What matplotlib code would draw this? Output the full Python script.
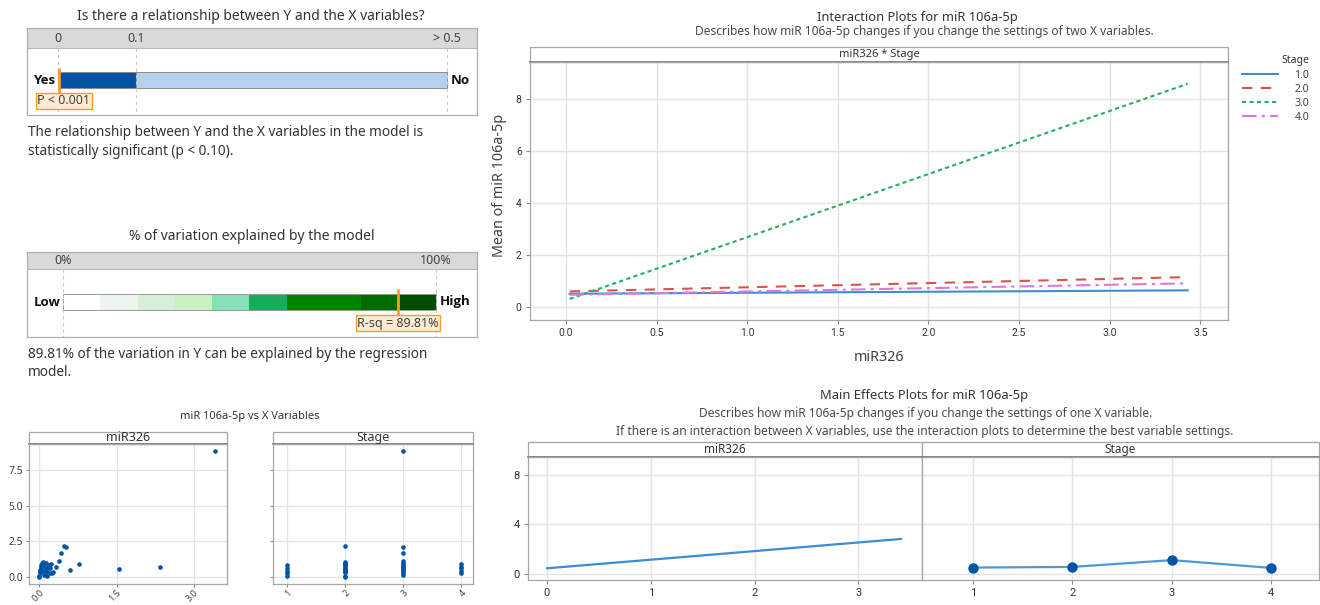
import matplotlib
matplotlib.use("Agg")
import matplotlib.pyplot as plt
from matplotlib import font_manager
from matplotlib.patches import Rectangle

W, H = 1320, 605

# ---- summary bars ----
p_edges = [0, 0.1, 0.5]
p_ticklabels = ["0", "0.1", "> 0.5"]
p_colors = ["#0054a6", "#b4d2ee"]
p_value = 0.001
p_label = "P < 0.001"

rsq_edges = [0, 10, 20, 30, 40, 50, 60, 80, 90, 100]
rsq_colors = ["#ffffff", "#edf5ee", "#d8eed8", "#c9f2c0", "#86dfb6",
              "#15ad5c", "#008300", "#006b00", "#004d00"]
rsq_ticklabels = ["0%", "100%"]
rsq_value = 89.81
rsq_label = "R-sq = 89.81%"

# ---- raw data (miR326, miR 106a-5p, Stage) ----
mir326 = [0.00, 0.01, 0.01, 0.03, 0.05, 0.08, 0.10, 0.12, 0.14, 0.16, 0.19, 0.23,
          0.21, 0.25, 0.32, 0.39, 0.43, 0.48, 0.52, 0.60, 0.77, 1.54, 2.34, 3.40,
          0.00, 0.02, 0.04, 0.06, 0.07, 0.09, 0.11, 0.13, 0.15, 0.17, 0.20, 0.03, 0.27]
mir106 = [0.02, 0.26, 0.49, 0.72, 0.96, 1.07, 0.91, 0.61, 0.37, 0.72, 0.84, 0.91,
          0.26, 0.26, 0.72, 1.14, 1.70, 2.17, 2.08, 0.49, 0.91, 0.54, 0.72, 8.84,
          0.10, 0.40, 0.55, 0.45, 0.80, 0.15, 0.44, 0.95, 0.07, 0.65, 0.61, 0.84, 0.37]
stage = [2, 1, 3, 2, 2, 2, 4, 2, 2, 4, 1, 3,
         4, 3, 3, 3, 3, 2, 3, 2, 2, 2, 3, 3,
         2, 3, 3, 4, 3, 3, 1, 3, 1, 1, 4, 2, 2]

# ---- interaction plot: fitted lines per stage ----
int_labels = ["1.0", "2.0", "3.0", "4.0"]
int_x = [0.02, 3.43]
int_y = [[0.51, 0.64], [0.60, 1.15], [0.31, 8.58], [0.47, 0.91]]
int_colors = ["#3b8ed6", "#d9534f", "#22b05e", "#dc78dc"]
int_styles = ["-", (0, (5, 4)), (0, (2, 1.6)), (0, (7, 2.5, 1.5, 2.5))]

# ---- main effects ----
me_x = [0, 3.41]
me_y = [0.46, 2.83]
me_stage = [1, 2, 3, 4]
me_stage_mean = [0.52, 0.57, 1.12, 0.49]

fm = font_manager.fontManager
installed = {f.name for f in fm.ttflist}
bold_ok = {f.name for f in fm.ttflist if f.weight in (600, 700, 800, "bold", "semibold")}
NARROW = "Liberation Sans Narrow" if "Liberation Sans Narrow" in installed else "Roboto"
BOLD = next(n for n in ["Open Sans", "Noto Sans", "Lato", "DejaVu Sans"] if n in bold_ok)
plt.rcParams["font.family"] = ["Noto Sans", "DejaVu Sans"]
TXT = "#333333"
GRID = "#e4e4e4"
FRAME = "#a6a6a6"

fig = plt.figure(figsize=(W / 100, H / 100), dpi=100)


def px_axes(x0, y0, x1, y1):
    return fig.add_axes([x0 / W, 1 - y1 / H, (x1 - x0) / W, (y1 - y0) / H])


def ftext(x, y, s, **kw):
    kw.setdefault("color", TXT)
    fig.text(x / W, 1 - y / H, s, **kw)


def frame(ax, color=FRAME):
    for sp in ax.spines.values():
        sp.set_color(color)
        sp.set_linewidth(0.9)


def header(ax, label, frac, size=7.5, family=None):
    ax.add_patch(Rectangle((0, 1), 1, frac, transform=ax.transAxes, clip_on=False,
                           fc="white", ec=FRAME, lw=0.9))
    ax.plot([0, 1], [1, 1], transform=ax.transAxes, color="#707070", lw=1.2, clip_on=False)
    ax.text(0.5, 1 + frac / 2, label, transform=ax.transAxes, ha="center", va="center",
            fontsize=size, color=TXT, family=family)


# ================= panel 1: p-value =================
ftext(251, 16, "Is there a relationship between Y and the X variables?", ha="center",
      va="center", fontsize=10)
ax = px_axes(27, 28, 477, 115)
ax.set_xlim(-0.0398, 0.5386)
ax.set_ylim(115, 28)
ax.axhspan(28, 47.7, color="#d9d9d9", lw=0)
ax.axhline(47.7, color="#b8b8b8", lw=0.8)
for v, lab in zip(p_edges, p_ticklabels):
    ax.vlines(v, 47.7, 115, colors="#c8c8c8", linestyles=(0, (3, 3)), lw=0.8)
    ax.text(v, 38.5, lab, ha="center", va="center", fontsize=9, color="#404040")
for i in range(len(p_edges) - 1):
    ax.barh(80.3, p_edges[i + 1] - p_edges[i], left=p_edges[i], height=16,
            color=p_colors[i], edgecolor="#8c8c8c", lw=0.7)
ax.vlines(p_value, 67.7, 93.3, colors="#f5a02a", lw=2)
ax.annotate(p_label, xy=(p_value, 100.8), xytext=(-15.5, 0), textcoords="offset points",
            ha="left", va="center", fontsize=9, color="#404040",
            bbox=dict(boxstyle="square,pad=0.12", fc="#fdebd2", ec="#f5a02a", lw=1))
ax.annotate("Yes", xy=(p_edges[0], 80.3), xytext=(-2, 0), textcoords="offset points",
            ha="right", va="center", fontsize=9.5, fontweight="bold", family=BOLD,
            color="#111111")
ax.annotate("No", xy=(p_edges[-1], 80.3), xytext=(3, 0), textcoords="offset points",
            ha="left", va="center", fontsize=9.5, fontweight="bold", family=BOLD,
            color="#111111")
ax.set_xticks([])
ax.set_yticks([])
frame(ax, "#b0b0b0")
ftext(28, 133, "The relationship between Y and the X variables in the model is",
      va="center", fontsize=9.8)
ftext(28, 151.5, "statistically significant (p < 0.10).", va="center", fontsize=9.8)

# ================= panel 2: R-sq =================
ftext(252, 237, "% of variation explained by the model", ha="center", va="center",
      fontsize=10)
ax = px_axes(27, 251.5, 477, 336.5)
ax.set_xlim(-9.65, 111.0)
ax.set_ylim(336.5, 251.5)
ax.axhspan(251.5, 269.3, color="#d9d9d9", lw=0)
ax.axhline(269.3, color="#b8b8b8", lw=0.8)
for v, lab in zip([rsq_edges[0], rsq_edges[-1]], rsq_ticklabels):
    ax.vlines(v, 269.3, 336.5, colors="#c8c8c8", linestyles=(0, (3, 3)), lw=0.8)
    ax.text(v, 261, lab, ha="center", va="center", fontsize=9, color="#404040")
for i in range(len(rsq_edges) - 1):
    ax.barh(302, rsq_edges[i + 1] - rsq_edges[i], left=rsq_edges[i], height=16,
            color=rsq_colors[i], lw=0)
ax.barh(302, rsq_edges[-1] - rsq_edges[0], left=rsq_edges[0], height=16,
        fill=False, edgecolor="#9a9a9a", lw=0.7)
ax.vlines(rsq_value, 289.3, 316.5, colors="#f5a02a", lw=2)
ax.text(rsq_value, 323, rsq_label, ha="center", va="center", fontsize=9, color="#404040",
        bbox=dict(boxstyle="square,pad=0.12", fc="#fdebd2", ec="#f5a02a", lw=1))
ax.annotate("Low", xy=(rsq_edges[0], 302), xytext=(-2, 0), textcoords="offset points",
            ha="right", va="center", fontsize=9.5, fontweight="bold", family=BOLD,
            color="#111111")
ax.annotate("High", xy=(rsq_edges[-1], 302), xytext=(3, 0), textcoords="offset points",
            ha="left", va="center", fontsize=9.5, fontweight="bold", family=BOLD,
            color="#111111")
ax.set_xticks([])
ax.set_yticks([])
frame(ax, "#b0b0b0")
ftext(28, 355, "89.81% of the variation in Y can be explained by the regression",
      va="center", fontsize=9.8)
ftext(28, 373, "model.", va="center", fontsize=9.8)

# ================= panel 3: scatter vs X =================
ftext(250, 417, "miR 106a-5p vs X Variables", ha="center", va="center", fontsize=8)
hfrac = 12.5 / 140
axL = px_axes(29, 444, 227, 584)
axR = px_axes(273, 444, 473, 584)
axL.scatter(mir326, mir106, s=11, color="#0054a6", lw=0, zorder=3)
axR.scatter(stage, mir106, s=11, color="#0054a6", lw=0, zorder=3)
axL.set_xlim(-0.2, 3.64)
axR.set_xlim(0.76, 4.2)
axL.set_xticks([0, 1.5, 3.0])
axL.set_xticklabels(["0.0", "1.5", "3.0"])
axR.set_xticks([1, 2, 3, 4])
for a, lab in [(axL, "miR326"), (axR, "Stage")]:
    a.set_ylim(-0.49, 9.32)
    a.set_yticks([0, 2.5, 5.0, 7.5])
    a.grid(True, color=GRID, lw=0.9)
    a.set_axisbelow(True)
    a.tick_params(length=2.5, color="#888888", labelsize=7.5, labelcolor="#404040", pad=1.5)
    a.tick_params(axis="x", labelsize=6.5, pad=0.5)
    for t in a.get_xticklabels():
        t.set_rotation(45)
        t.set_ha("right")
        t.set_rotation_mode("anchor")
    frame(a)
    header(a, lab, hfrac, size=9)
axL.set_yticklabels(["0.0", "2.5", "5.0", "7.5"])
axR.set_yticklabels([])

# ================= interaction plot =================
ftext(917, 17, "Interaction Plots for miR 106a-5p", ha="center", va="center", fontsize=9.3)
ftext(924, 31, "Describes how miR 106a-5p changes if you change the settings of two X variables.",
      ha="center", va="center", fontsize=8.6, color="#4a4a4a")
axI = px_axes(530, 62, 1228, 320)
handles = []
for lab, ys, c, ls in zip(int_labels, int_y, int_colors, int_styles):
    ln, = axI.plot(int_x, ys, color=c, ls=ls, lw=1.5, label=lab)
    handles.append(ln)
axI.set_xlim(-0.199, 3.653)
axI.set_ylim(-0.5, 9.42)
axI.set_xticks([0, 0.5, 1.0, 1.5, 2.0, 2.5, 3.0, 3.5])
axI.set_xticklabels(["0.0", "0.5", "1.0", "1.5", "2.0", "2.5", "3.0", "3.5"])
axI.set_yticks([0, 2, 4, 6, 8])
axI.grid(True, color=GRID, lw=1)
axI.set_axisbelow(True)
axI.tick_params(length=3, color="#888888", labelsize=7.5, labelcolor="#333333", pad=3)
for t in axI.get_xticklabels() + axI.get_yticklabels():
    t.set_family(NARROW)
frame(axI)
header(axI, "miR326 * Stage", 15 / 258, size=8)
axI.set_ylabel("Mean of miR 106a-5p", fontsize=10.3, color="#404040")
axI.yaxis.set_label_coords(-0.033, 0.52)
axI.set_xlabel("miR326", fontsize=10.3, color="#404040", va="top")
axI.xaxis.set_label_coords(0.5, -0.115)
leg = fig.legend(handles=handles, loc="upper left", bbox_to_anchor=(1233 / W, 1 - 46 / H),
                 frameon=False, title="Stage", fontsize=7.5, title_fontsize=7.5,
                 handlelength=3.4, handletextpad=1.6, labelspacing=0.3, alignment="right")
for t in leg.get_texts():
    t.set_color("#404040")
leg.get_title().set_color("#333333")

# ================= main effects =================
ftext(924, 395, "Main Effects Plots for miR 106a-5p", ha="center", va="center", fontsize=9.3)
ftext(926, 413, "Describes how miR 106a-5p changes if you change the settings of one X variable.",
      ha="center", va="center", fontsize=8.6, color="#4a4a4a")
ftext(925, 431.5, "If there is an interaction between X variables, use the interaction plots to "
      "determine the best variable settings.", ha="center", va="center", fontsize=8.6,
      color="#4a4a4a")
axM1 = px_axes(528, 457, 922, 580)
axM2 = px_axes(922, 457, 1319, 580)
axM1.plot(me_x, me_y, color="#3b8ed6", lw=1.6)
axM2.plot(me_stage, me_stage_mean, color="#4a9ad8", lw=1.6, marker="o", ms=6.5,
          mfc="#0054a6", mec="#0054a6")
axM1.set_xlim(-0.183, 3.613)
axM2.set_xlim(0.49, 4.48)
axM1.set_xticks([0, 1, 2, 3])
axM2.set_xticks([1, 2, 3, 4])
for a, lab in [(axM1, "miR326"), (axM2, "Stage")]:
    a.set_ylim(-0.485, 9.45)
    a.set_yticks([0, 4, 8])
    a.grid(True, color=GRID, lw=1)
    a.set_axisbelow(True)
    a.tick_params(length=3, color="#888888", labelsize=8, labelcolor="#333333", pad=3)
    for t in a.get_xticklabels() + a.get_yticklabels():
        t.set_family(NARROW)
    frame(a)
    header(a, lab, 15 / 123, size=8.5)
axM2.tick_params(axis="y", length=0, labelleft=False)
axM1.spines["right"].set_color("#707070")

fig.savefig("out.png", dpi=100)
